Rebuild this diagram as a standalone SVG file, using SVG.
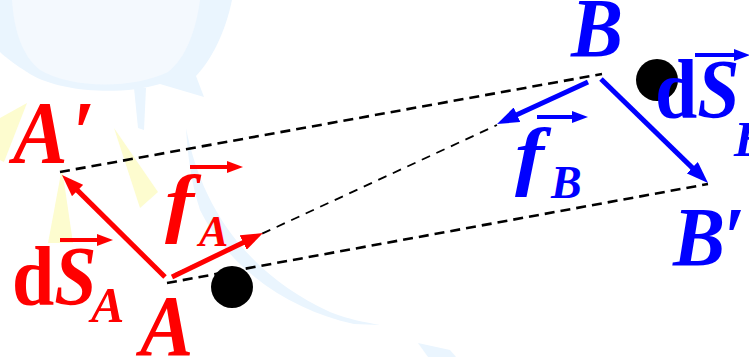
<svg xmlns="http://www.w3.org/2000/svg" width="749" height="357" viewBox="0 0 749 357">
  <style>
    .lbl { font-family: "Liberation Serif", "Times New Roman", serif; font-weight: bold; font-style: italic; }
    .up { font-style: normal; }
    .red { fill: #ff0000; }
    .blue { fill: #0000ff; }
    .dash { fill: none; stroke: #000; stroke-width: 2.6; stroke-dasharray: 10 6; }
    .dash-thin { fill: none; stroke: #000; stroke-width: 1.8; stroke-dasharray: 9 7; }
    .vr { stroke: #ff0000; fill: none; }
    .vb { stroke: #0000ff; fill: none; }
    .big { stroke-width: 5; }
    .small { stroke-width: 4; }
    .wm-blue { fill: #eaf5fe; }
    .wm-light { fill: #f4f9fe; }
    .wm-yel { fill: #fdfccf; }
  </style>
  <defs>
    <marker id="bigR" markerUnits="userSpaceOnUse" markerWidth="22" markerHeight="16" refX="2" refY="8" orient="auto">
      <path d="M0,0 L22,8 L0,16 Z" fill="#ff0000"/>
    </marker>
    <marker id="bigB" markerUnits="userSpaceOnUse" markerWidth="22" markerHeight="16" refX="2" refY="8" orient="auto">
      <path d="M0,0 L22,8 L0,16 Z" fill="#0000ff"/>
    </marker>
    <marker id="smR" markerUnits="userSpaceOnUse" markerWidth="16" markerHeight="12" refX="2" refY="6" orient="auto">
      <path d="M0,0 L16,6 L0,12 Z" fill="#ff0000"/>
    </marker>
    <marker id="smB" markerUnits="userSpaceOnUse" markerWidth="16" markerHeight="12" refX="2" refY="6" orient="auto">
      <path d="M0,0 L16,6 L0,12 Z" fill="#0000ff"/>
    </marker>
  </defs>

  <rect width="749" height="357" fill="#ffffff"/>

  <!-- faint background watermark -->
  <g id="watermark">
    <path class="wm-blue" d="M0,0 L232,0 C226,30 212,60 196,76 L204,97 L160,84 C120,96 60,92 30,74 C14,64 4,56 0,52 Z"/>
    <path class="wm-light" d="M12,0 L200,0 C196,30 186,58 168,72 C130,90 70,88 40,70 C22,56 14,30 12,0 Z"/>
    <path class="wm-blue" d="M134,88 L146,88 L144,130 L138,128 Z"/>
    <path class="wm-blue" d="M186,128 C200,200 240,270 330,312 C350,320 365,322 380,325 L354,324 C290,310 230,270 200,210 C192,185 188,160 186,128 Z"/>
    <path class="wm-blue" d="M418,343 L450,350 L456,357 L428,357 Z"/>
    <path class="wm-yel" d="M0,118 L27,103 L4,162 L0,160 Z"/>
    <path class="wm-yel" d="M114,128 L158,192 L140,208 Z"/>
    <path class="wm-yel" d="M62,168 L73,243 L48,243 Z"/>
  </g>

  <!-- black dots -->
  <g id="dotA"><circle cx="232" cy="287" r="21" fill="#000"/></g>
  <g id="dotB"><circle cx="657" cy="80" r="21" fill="#000"/></g>

  <!-- connectors -->
  <g id="connectors">
    <line class="dash" x1="60" y1="172" x2="602" y2="74"/>
    <line class="dash" x1="167" y1="283" x2="708" y2="184"/>
    <line class="dash-thin" x1="175" y1="274" x2="497" y2="125"/>

    <line class="vr big" x1="165" y1="277" x2="76.2" y2="189.1" marker-end="url(#bigR)"/>
    <line class="vr big" x1="172" y1="277" x2="245" y2="241.7" marker-end="url(#bigR)"/>
    <line class="vb big" x1="601" y1="79" x2="693.7" y2="169.1" marker-end="url(#bigB)"/>
    <line class="vb big" x1="588" y1="82" x2="515.2" y2="115.6" marker-end="url(#bigB)"/>
  </g>

  <!-- labels -->
  <g id="label-Aprime"><text class="lbl red" transform="translate(13 162) scale(1 1.08)" font-size="82">A<tspan dx="4">′</tspan></text></g>
  <g id="label-A"><text class="lbl red" transform="translate(140 355) scale(1 1.08)" font-size="80">A</text></g>
  <g id="label-B"><text class="lbl blue" transform="translate(571 57) scale(1 1.08)" font-size="78">B</text></g>
  <g id="label-Bprime"><text class="lbl blue" transform="translate(673 266) scale(1 1.08)" font-size="78">B<tspan dx="-2">′</tspan></text></g>

  <g id="label-dSA">
    <line class="vr small" x1="60" y1="240" x2="99" y2="240" marker-end="url(#smR)"/>
    <text class="lbl red" transform="translate(12 305) scale(1 1.1)" font-size="76"><tspan class="up">d</tspan>S</text>
    <text class="lbl red" x="91" y="322" font-size="50">A</text>
  </g>
  <g id="label-fA">
    <line class="vr small" x1="190" y1="167" x2="229" y2="167" marker-end="url(#smR)"/>
    <text class="lbl red" transform="translate(165 228) scale(1.15 1)" font-size="76">f</text>
    <text class="lbl red" x="199" y="246" font-size="44">A</text>
  </g>
  <g id="label-fB">
    <line class="vb small" x1="537" y1="117" x2="574" y2="117" marker-end="url(#smB)"/>
    <text class="lbl blue" transform="translate(515 181) scale(1.15 1)" font-size="76">f</text>
    <text class="lbl blue" x="551" y="198" font-size="46">B</text>
  </g>
  <g id="label-dSB">
    <line class="vb small" x1="695" y1="55" x2="736" y2="55" marker-end="url(#smB)"/>
    <text class="lbl blue" transform="translate(655 118) scale(1 1.1)" font-size="76"><tspan class="up">d</tspan>S</text>
    <text class="lbl blue" x="734" y="156" font-size="50">B</text>
  </g>
</svg>
